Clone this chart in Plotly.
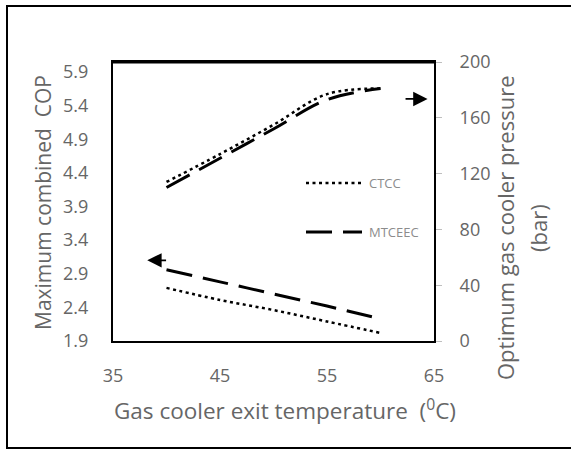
import plotly.graph_objects as go

# Data
temps = [40, 45, 50, 55, 60]
cop_ctcc = [2.69, 2.51, 2.36, 2.19, 2.02]
cop_mtceec = [2.96, 2.78, 2.60, 2.42, 2.23]
p_ctcc = [114, 134, 155, 177, 181]
p_mtceec = [110, 131, 152, 173, 181]
x_ticks = [35, 45, 55, 65]
cop_ticks = [1.9, 2.4, 2.9, 3.4, 3.9, 4.4, 4.9, 5.4, 5.9]
p_ticks = [0, 40, 80, 120, 160, 200]

FONT = "Open Sans"
GRAY = "#666666"
W, H = 571, 450
L, R, T, B = 113, 137, 62, 109
PW, PH = W - L - R, H - T - B

def fx(px):
    return (px - L) / PW

def fy(py):
    return (H - B - py) / PH

dot = dict(color="black", width=2.5, dash="3px,3.5px")
dash = dict(color="black", width=3, dash="26px,11px")

fig = go.Figure()
fig.add_trace(go.Scatter(x=temps, y=cop_ctcc, mode="lines", line=dot, line_shape="spline", showlegend=False, name="CTCC"))
fig.add_trace(go.Scatter(x=temps, y=cop_mtceec, mode="lines", line=dash, line_shape="spline", showlegend=False, name="MTCEEC"))
fig.add_trace(go.Scatter(x=temps, y=p_ctcc, mode="lines", line=dot, line_shape="spline", yaxis="y2", showlegend=False, name="CTCC"))
fig.add_trace(go.Scatter(x=temps, y=p_mtceec, mode="lines", line=dash, line_shape="spline", yaxis="y2", showlegend=False, name="MTCEEC"))

tickfont = dict(family=FONT, size=18, color=GRAY)
titlefont = dict(family=FONT, size=21, color=GRAY)

fig.update_layout(
    width=W, height=H,
    margin=dict(l=L, r=R, t=T, b=B),
    paper_bgcolor="white", plot_bgcolor="white",
    font=dict(family=FONT, color=GRAY),
    xaxis=dict(range=[35, 65], tickvals=x_ticks, showgrid=False, zeroline=False,
               showline=True, linecolor="black", linewidth=2, mirror=True,
               ticks="", tickfont=tickfont, ticklabelstandoff=17),
    yaxis=dict(range=[1.9, 6.05], tickvals=cop_ticks, tickformat=".1f", showgrid=False, zeroline=False,
               showline=True, linecolor="black", linewidth=2,
               ticks="", tickfont=tickfont, ticklabelstandoff=19),
    yaxis2=dict(range=[0, 200], tickvals=p_ticks, overlaying="y", side="right",
                showgrid=False, zeroline=False, showline=True, linecolor="black", linewidth=2,
                ticks="outside", ticklen=6, tickcolor="#bfbfbf", tickfont=tickfont, ticklabelstandoff=14),
)

shapes = [
    # outer border
    dict(type="rect", xref="paper", yref="paper", x0=fx(7), x1=fx(600), y0=fy(448), y1=fy(6),
         line=dict(color="black", width=2)),
    # thick top border of plot area
    dict(type="line", xref="paper", yref="paper", x0=0, x1=1, y0=1, y1=1,
         line=dict(color="black", width=3)),
    # legend samples
    dict(type="line", xref="paper", yref="paper", x0=fx(306), x1=fx(362), y0=fy(183), y1=fy(183), line=dot),
    dict(type="line", xref="paper", yref="paper", x0=fx(306), x1=fx(362), y0=fy(232), y1=fy(232), line=dash),
]

annotations = [
    dict(text="CTCC", xref="paper", yref="paper", x=fx(367), y=fy(183), xanchor="left", yanchor="middle",
         showarrow=False, font=dict(family=FONT, size=13, color="#8c8c8c")),
    dict(text="MTCEEC", xref="paper", yref="paper", x=fx(367), y=fy(232), xanchor="left", yanchor="middle",
         showarrow=False, font=dict(family=FONT, size=13, color="#8c8c8c")),
    # axis titles
    dict(text="Maximum combined  COP", xref="paper", yref="paper", x=fx(43), y=fy(203), textangle=-90,
         xanchor="center", yanchor="middle", showarrow=False, font=titlefont),
    dict(text="Optimum gas cooler pressure", xref="paper", yref="paper", x=fx(505), y=fy(228), textangle=-90,
         xanchor="center", yanchor="middle", showarrow=False, font=dict(family=FONT, size=22, color=GRAY)),
    dict(text="(bar)", xref="paper", yref="paper", x=fx(538), y=fy(228), textangle=-90,
         xanchor="center", yanchor="middle", showarrow=False, font=dict(family=FONT, size=22, color=GRAY)),
    dict(text="Gas cooler exit temperature  (<sup>0</sup>C)", xref="paper", yref="paper", x=fx(285), y=fy(409),
         xanchor="center", yanchor="middle", showarrow=False, font=dict(family=FONT, size=22.5, color=GRAY)),
    # arrows
    dict(x=64.4, y=173.5, xref="x", yref="y2", ax=62.2, ay=173.5, axref="x", ayref="y2",
         showarrow=True, arrowhead=2, arrowsize=1.6, arrowwidth=1.8, arrowcolor="black", text=""),
    dict(x=38.2, y=3.10, xref="x", yref="y", ax=40.1, ay=3.10, axref="x", ayref="y",
         showarrow=True, arrowhead=2, arrowsize=1.6, arrowwidth=1.8, arrowcolor="black", text=""),
]

fig.update_layout(shapes=shapes, annotations=annotations)
fig.write_html("out.html")
